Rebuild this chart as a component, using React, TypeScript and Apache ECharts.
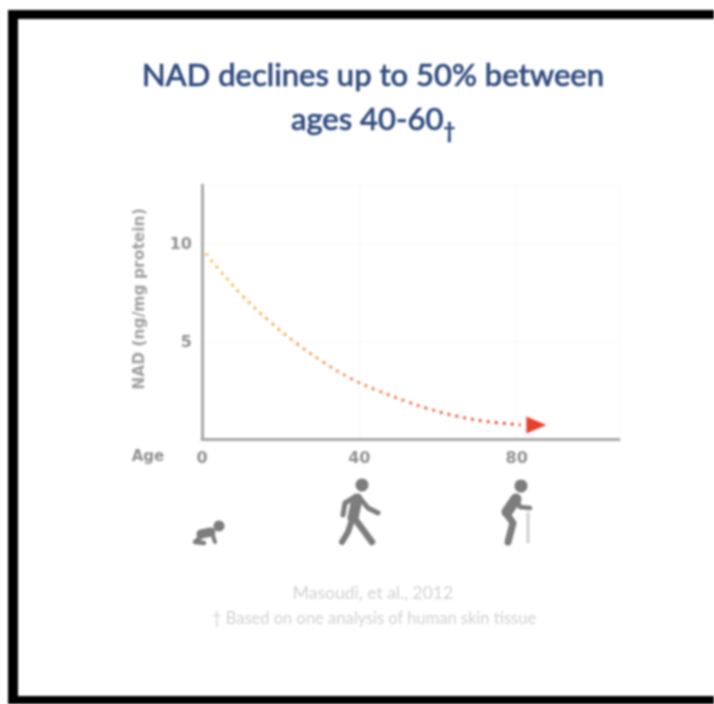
import React, { useEffect, useRef } from "react";
import * as echarts from "echarts";

const curveAges = [1, 3.8, 10.4, 17.3, 24, 30.7, 37.6, 44.4, 52, 57, 64.7, 72.3, 81];
const curveNad = [9.5, 8.8, 7.3, 6.0, 4.9, 3.95, 3.12, 2.5, 1.92, 1.58, 1.17, 0.9, 0.72];
const arrowPoint = [85, 0.72];
const xMax = 106;
const yMax = 13;
const titleLines = ["NAD declines up to 50% between", "ages 40-60"];
const yAxisName = "NAD (ng/mg protein)";
const sourceNote = "Masoudi, et al., 2012";
const footNote = "† Based on one analysis of human skin tissue";

const GREY = "#7d7d7d";
const LABEL = "#919191";
const FOOT = "#d2d2d2";

function limb(points: number[][], width: number, stroke = GREY) {
  return {
    type: "polyline",
    shape: { points, smooth: 0 },
    style: { stroke, lineWidth: width, fill: "none", lineCap: "round", lineJoin: "round" },
  };
}
function head(cx: number, cy: number, r: number) {
  return { type: "circle", shape: { cx, cy, r }, style: { fill: GREY } };
}

const walker = [
  head(362, 485, 6.5),
  limb([[357, 499], [353, 518]], 11),
  limb([[355, 497], [345, 503], [343, 515]], 5),
  limb([[359, 497], [368, 508], [378, 513]], 5),
  limb([[355, 519], [372, 542]], 6.5),
  limb([[351, 523], [348, 532], [342, 542]], 6),
];
const elder = [
  head(521, 486, 6.5),
  limb([[516, 499], [507, 512]], 11),
  limb([[517, 500], [520, 507], [530, 508]], 4.5),
  limb([[506, 513], [513, 523], [508, 542]], 7),
  limb([[528, 513], [528, 542]], 3, "#cfcfcf"),
];
const baby = [
  head(219, 526, 5.5),
  limb([[201, 534], [211, 532]], 9),
  limb([[212, 533], [215, 542]], 4),
  limb([[202, 536], [195, 542], [204, 543]], 4.5),
];

export default function App() {
  const ref = useRef<HTMLDivElement>(null);
  useEffect(() => {
    const chart = echarts.init(ref.current!, null, { renderer: "svg" });
    chart.setOption({
      animation: false,
      backgroundColor: "#ffffff",
      title: {
        text: `${titleLines[0]}\n${titleLines[1]}{sub|†}`,
        left: 368,
        top: 47,
        textAlign: "center",
        textStyle: {
          fontFamily: "Lato",
          fontWeight: 500,
          fontSize: 31,
          lineHeight: 44,
          color: "#2f4a7e",
          textBorderColor: "#2f4a7e",
          textBorderWidth: 0.6,
          rich: {
            sub: {
              fontFamily: "Lato",
              fontSize: 20,
              fontWeight: 700,
              color: "#2f4a7e",
              verticalAlign: "bottom",
              padding: [14, 0, 0, 0],
            },
          },
        },
      },
      grid: { left: 202, top: 185, width: 417, height: 254 },
      xAxis: {
        type: "value",
        min: 0,
        max: xMax,
        interval: 40,
        axisLine: { show: true, lineStyle: { color: "#a9a9a9", width: 3 } },
        axisTick: { show: false },
        splitLine: { show: true, lineStyle: { color: "#f9f9f9", width: 1 } },
        axisLabel: {
          showMaxLabel: false,
          margin: 10,
          fontFamily: "DejaVu Sans",
          fontWeight: "bold",
          fontSize: 16,
          color: LABEL,
        },
      },
      yAxis: {
        type: "value",
        min: 0,
        max: yMax,
        interval: 5,
        name: yAxisName,
        nameLocation: "middle",
        nameGap: 55,
        nameRotate: 90,
        nameTextStyle: {
          fontFamily: "DejaVu Sans",
          fontWeight: "bold",
          fontSize: 15.5,
          color: "#a0a0a0",
          padding: [0, 0, 0, 26],
        },
        axisLine: { show: true, lineStyle: { color: "#a9a9a9", width: 3 } },
        axisTick: { show: false },
        splitLine: { show: true, lineStyle: { color: "#f9f9f9", width: 1 } },
        axisLabel: {
          showMinLabel: false,
          showMaxLabel: false,
          margin: 10,
          fontFamily: "DejaVu Sans",
          fontWeight: "bold",
          fontSize: 16,
          color: LABEL,
        },
      },
      series: [
        {
          type: "line",
          data: curveAges.map((a, i) => [a, curveNad[i]]),
          smooth: 0.4,
          showSymbol: false,
          lineStyle: {
            width: 3,
            type: [3, 5],
            color: new echarts.graphic.LinearGradient(0, 0, 1, 0, [
              { offset: 0, color: "#f6c65c" },
              { offset: 0.4, color: "#f29a62" },
              { offset: 1, color: "#e9443a" },
            ]),
          },
        },
        {
          type: "scatter",
          data: [arrowPoint],
          symbol: "triangle",
          symbolRotate: -90,
          symbolSize: [17, 20],
          itemStyle: { color: "#e8402f", opacity: 1 },
        },
      ],
      graphic: [
        { type: "rect", shape: { x: 8, y: 10, width: 10, height: 694 }, style: { fill: "#000" } },
        { type: "rect", shape: { x: 8, y: 10, width: 706, height: 9 }, style: { fill: "#000" } },
        { type: "rect", shape: { x: 8, y: 696, width: 706, height: 8 }, style: { fill: "#000" } },
        {
          type: "text",
          x: 148,
          y: 456,
          style: {
            text: "Age",
            fill: LABEL,
            font: "bold 15px 'DejaVu Sans'",
            textAlign: "center",
            textVerticalAlign: "middle",
          },
        },
        {
          type: "text",
          x: 373,
          y: 592,
          style: {
            text: sourceNote,
            fill: FOOT,
            font: "17.5px Lato",
            textAlign: "center",
            textVerticalAlign: "middle",
          },
        },
        {
          type: "text",
          x: 374,
          y: 618,
          style: {
            text: footNote,
            fill: FOOT,
            font: "16.5px Lato",
            textAlign: "center",
            textVerticalAlign: "middle",
          },
        },
        { type: "group", children: walker },
        { type: "group", children: elder },
        { type: "group", children: baby },
      ],
    });
    return () => chart.dispose();
  }, []);
  return (
    <div
      ref={ref}
      style={{ position: "absolute", left: 0, top: 0, width: 714, height: 704, filter: "blur(0.8px)" }}
    />
  );
}
